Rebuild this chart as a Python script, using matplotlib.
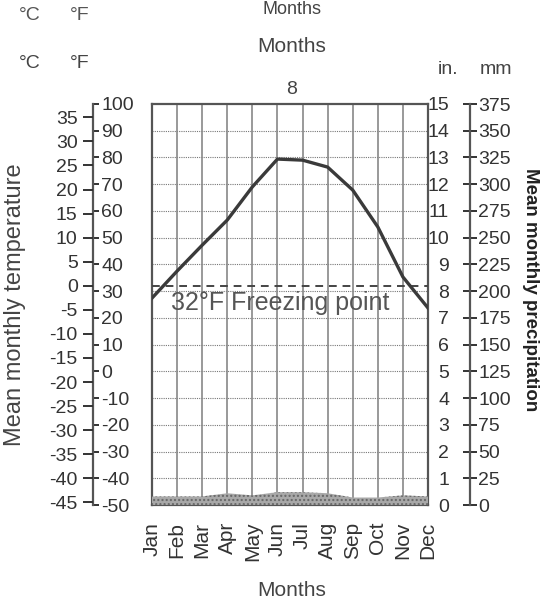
import numpy as np
import matplotlib.pyplot as plt

plt.rcParams['font.family'] = ['Liberation Sans', 'DejaVu Sans']
plt.rcParams['axes.unicode_minus'] = False

# Datos del climograma
months = ['Jan', 'Feb', 'Mar', 'Apr', 'May', 'Jun',
          'Jul', 'Aug', 'Sep', 'Oct', 'Nov', 'Dec']
temp_f = [27.4, 37.5, 47.2, 56.6, 69.0, 79.4, 79.0, 76.4, 67.8, 54.0, 35.3, 23.7]
precip_mm = [8, 8, 8, 11, 9, 12, 12, 11, 7, 7, 9, 8]

c_ticks = list(range(-45, 40, 5))
f_ticks = list(range(-50, 110, 10))
in_ticks = list(range(0, 16))
mm_ticks = list(range(0, 400, 25))

W, H = 541, 607
fig = plt.figure(figsize=(W / 100, H / 100), dpi=100)

def fx(px):
    return px / W

def fy(py):
    return 1 - py / H

# caja principal en pixeles
L, R, T, B = 152, 428, 104, 505
ax = fig.add_axes([fx(L), fy(B), (R - L) / W, (B - T) / H])
ax.set_xlim(0, 11)
ax.set_ylim(-50, 100)
ink = '#333333'

# cuadricula
for yv in f_ticks[1:-1]:
    ax.axhline(yv, color='#777777', lw=0.8, ls=(0, (1, 1)), zorder=1)
for i in range(1, 11):
    ax.axvline(i, color='#888888', lw=1.2, zorder=1)
for s in ax.spines.values():
    s.set_color('#555555')
    s.set_linewidth(1.6)

# precipitacion (eje en mm)
axp = ax.twinx()
axp.set_ylim(0, 375)
axp.fill_between(range(12), precip_mm, color='#a8a8a8', hatch='....',
                 edgecolor='#666666', linewidth=0, zorder=2)
axp.set_yticks([])
for s in axp.spines.values():
    s.set_visible(False)

# temperatura
ax.plot(range(12), temp_f, color='#3a3a3a', lw=2.4, zorder=5)
ax.axhline(32, color='#444444', lw=1.4, ls=(0, (4, 3)), zorder=4)
ax.text(5.1, 25.5, '32°F Freezing point', ha='center', va='center',
        fontsize=18, color='#555555', zorder=6)

ax.set_yticks([])
ax.set_xticks(range(12))
ax.set_xticklabels(months, rotation=90, fontsize=15, color=ink)
ax.tick_params(axis='x', length=0, pad=12)

# escala Fahrenheit
off_left = (93 - L) / (R - L)
axf = ax.twinx()
axf.set_ylim(-50, 100)
for k, s in axf.spines.items():
    s.set_visible(k == 'right')
axf.spines['right'].set_position(('axes', off_left))
axf.spines['right'].set_color('#555555')
axf.spines['right'].set_linewidth(1.6)
axf.set_yticks(f_ticks)
axf.tick_params(axis='y', direction='out', length=4, width=1.4, pad=2,
                labelsize=14, colors=ink)

# escala Celsius
axc = ax.twinx()
axc.set_ylim((-50 - 32) * 5 / 9, (100 - 32) * 5 / 9)
for k, s in axc.spines.items():
    s.set_visible(False)
axc.yaxis.set_ticks_position('left')
axc.spines['left'].set_position(('axes', off_left))
axc.set_yticks(c_ticks)
axc.tick_params(axis='y', direction='out', length=7, width=1.4, pad=4,
                labelsize=14, colors=ink)

# escala pulgadas / mm
off_right = (470 - L) / (R - L)
axi = ax.twinx()
axi.set_ylim(0, 15)
for k, s in axi.spines.items():
    s.set_visible(False)
axi.yaxis.set_ticks_position('left')
axi.spines['left'].set_position(('axes', off_right))
axi.set_yticks(in_ticks)
axi.tick_params(axis='y', direction='out', length=5, width=1.4, pad=10,
                labelsize=14, colors=ink)

axm = ax.twinx()
axm.set_ylim(0, 375)
for k, s in axm.spines.items():
    s.set_visible(k == 'right')
axm.spines['right'].set_position(('axes', off_right))
axm.spines['right'].set_color('#555555')
axm.spines['right'].set_linewidth(1.6)
axm.set_yticks(mm_ticks)
axm.tick_params(axis='y', direction='out', length=5, width=1.4, pad=1,
                labelsize=14, colors=ink)

# textos
fig.text(fx(15), fy(305), 'Mean monthly temperature', rotation=90,
         ha='center', va='center', fontsize=17, color='#444444')
fig.text(fx(530), fy(290), 'Mean monthly precipitation', rotation=270,
         ha='center', va='center', fontsize=13.5, fontweight='bold', color='#222222')
fig.text(fx(292), fy(590), 'Months', ha='center', va='center', fontsize=15, color='#444444')
fig.text(fx(292), fy(47), 'Months', ha='center', va='center', fontsize=15, color='#444444')
fig.text(fx(30), fy(64), '°C', ha='center', va='center', fontsize=14, color='#444444')
fig.text(fx(80), fy(64), '°F', ha='center', va='center', fontsize=14, color='#444444')
fig.text(fx(448), fy(70), 'in.', ha='center', va='center', fontsize=14, color='#444444')
fig.text(fx(496), fy(70), 'mm', ha='center', va='center', fontsize=14, color='#444444')
fig.text(fx(30), fy(16), '°C', ha='center', va='center', fontsize=14, color='#555555')
fig.text(fx(80), fy(16), '°F', ha='center', va='center', fontsize=14, color='#555555')
fig.text(fx(292), fy(1), 'Months', ha='center', va='top', fontsize=13, color='#444444')
fig.text(fx(292), fy(90), '8', ha='center', va='center', fontsize=14, color='#444444')

fig.savefig('out.png', dpi=100)
